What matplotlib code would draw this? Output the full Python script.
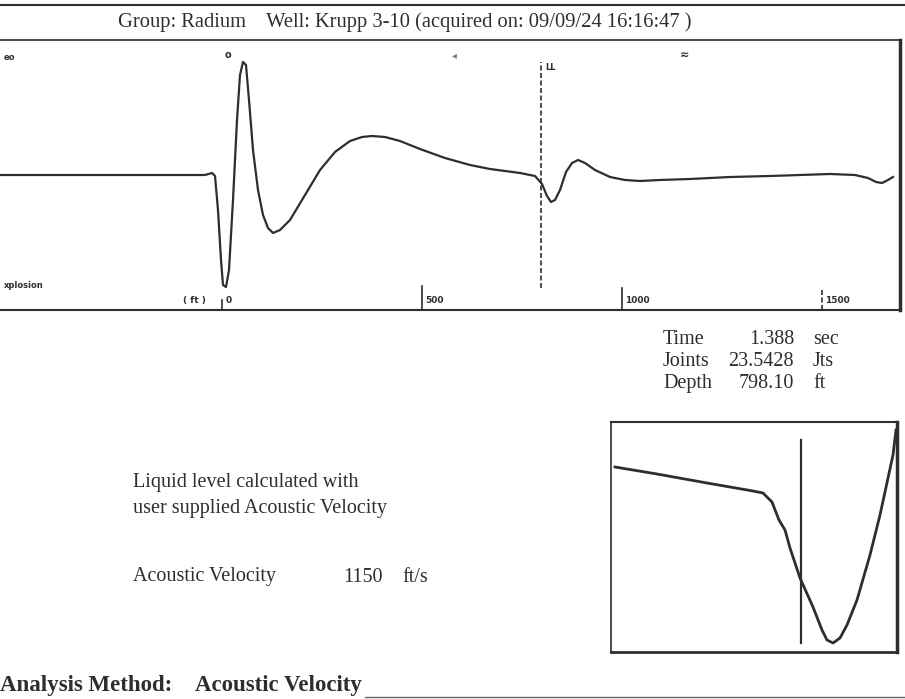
import numpy as np
import matplotlib.pyplot as plt

W, H = 905, 699

# acoustic trace: distance (ft) and amplitude
trace_ft = [-555, -180, -42.5, -25, -17.5, -10, -2.5, 2.5, 10, 17.5, 27.5, 37.5, 45, 52.5,
            60, 67.5, 77.5, 90, 102.5, 115, 127.5, 145, 170, 207.5, 245, 282.5, 320, 350,
            375, 407.5, 445, 495, 557.5, 620, 670, 745, 782.5, 800, 812.5, 822.5, 832.5,
            845, 860, 875, 890, 907.5, 932.5, 970, 1007.5, 1045, 1095, 1170, 1270, 1370,
            1445, 1520, 1582.5, 1615, 1635, 1650, 1665, 1677.5]
trace_amp = [0, 0, 0, 2, -1, -35, -85, -110, -112, -95, -25, 55, 100, 113,
             110, 75, 25, -15, -40, -53, -58, -55, -45, -20, 5, 23, 34, 38,
             39, 38, 34, 26, 17, 10, 6, 2, -1, -9, -21, -27, -25,
             -15, 3, 12, 15, 12, 5, -2, -5, -6, -5, -4, -2, -1,
             0, 1, 0, -3, -7, -8, -5, -2]

x_ticks = [0, 500, 1000, 1500]
marker_depth = 798.10

# zoomed view around the liquid level kick
zoom_x = [4, 46, 96, 142, 152, 156, 161, 168, 174, 179, 189, 202, 211, 216, 222,
          229, 236, 246, 259, 269, 282, 285]
zoom_y = [185, 178, 169, 161, 159, 155, 150, 132, 122, 104, 74, 45, 22, 12, 9,
          14, 27, 52, 97, 137, 197, 222]
zoom_marker = 190

stat_names = ['Time', 'Joints', 'Depth']
stat_values = ['1.388', '23.5428', '798.10']
stat_units = ['sec', 'Jts', 'ft']

ink = '#2e2e2e'
serif = 'Liberation Serif'


def fx(x):
    return x / W


def fy(y):
    return 1 - y / H


fig = plt.figure(figsize=(W / 100, H / 100), dpi=100)

# header lines and title
fig.add_artist(plt.Line2D([0, 1], [fy(5), fy(5)], color=ink, lw=1.5))
fig.text(fx(405), fy(22), 'Group: Radium    Well: Krupp 3-10 (acquired on: 09/09/24 16:16:47 )',
         ha='center', va='center', fontsize=14.8, family=serif, color=ink)

# main trace
ax = fig.add_axes([0, fy(310), 900 / W, 270 / H])
ax.plot(trace_ft, trace_amp, color=ink, lw=1.6)
ax.axvline(marker_depth, ymin=(135 - 113) / 270, ymax=(135 + 113) / 270,
           color=ink, lw=1.2, ls=(0, (3, 1.5)))
ax.set_xlim(-555, 1695)
ax.set_ylim(-135, 135)
ax.set_yticks([])
ax.set_xticks([])
ax.spines['left'].set_visible(False)
ax.spines['top'].set_linewidth(1.2)
ax.spines['bottom'].set_linewidth(1.5)
ax.spines['right'].set_linewidth(2.5)
for sp in ax.spines.values():
    sp.set_color(ink)

# depth ticks drawn upward from the baseline
tick_len = [10, 24, 22, 22]
tick_style = ['-', '-', '-', (0, (3, 1.5))]
for t, ln, st in zip(x_ticks, tick_len, tick_style):
    ax.axvline(t, ymin=0, ymax=ln / 270, color=ink, lw=1.2, ls=st)
    ax.text(t + 8, -130, str(t), fontsize=6.5, fontweight='bold', color=ink,
            ha='left', va='bottom')
ax.text(-40, -130, '( ft )', fontsize=6.5, fontweight='bold', color=ink, ha='right', va='bottom')
ax.text(-545, -110, 'xplosion', fontsize=6, fontweight='bold', color=ink, va='center')
ax.text(-545, 118, 'eo', fontsize=6, fontweight='bold', color=ink, va='center')
ax.text(15, 120, 'o', fontsize=7, fontweight='bold', color=ink, ha='center', va='center')
ax.text(582, 120, '◂', fontsize=7, color='#777777', ha='center', va='center')
ax.text(1157, 120, '≈', fontsize=8, fontweight='bold', color=ink, ha='center', va='center')
ax.text(marker_depth + 10, 108, 'LL', fontsize=6, fontweight='bold', color=ink,
        va='center')

# readout
for i, (n, v, u) in enumerate(zip(stat_names, stat_values, stat_units)):
    y = 339 + 22 * i
    fig.text(fx(663), fy(y), n, fontsize=14.5, family=serif, color=ink, va='center')
    fig.text(fx(794), fy(y), v, fontsize=14.5, family=serif, color=ink, va='center', ha='right')
    fig.text(fx(813), fy(y), u, fontsize=14.5, family=serif, color=ink, va='center')

fig.text(fx(133), fy(483), 'Liquid level calculated with', fontsize=14.5, family=serif,
         color=ink, va='center')
fig.text(fx(133), fy(508), 'user supplied Acoustic Velocity', fontsize=14.5, family=serif,
         color=ink, va='center')
fig.text(fx(133), fy(577), 'Acoustic Velocity', fontsize=14.5, family=serif, color=ink,
         va='center')
fig.text(fx(343), fy(577), '1150', fontsize=14.5, family=serif, color=ink, va='center')
fig.text(fx(402), fy(577), 'ft/s', fontsize=14.5, family=serif, color=ink, va='center')

fig.text(fx(0), fy(686), 'Analysis Method:', fontsize=16.5, family=serif, fontweight='bold',
         color=ink, va='center')
fig.text(fx(195), fy(686), 'Acoustic Velocity', fontsize=16.5, family=serif, fontweight='bold',
         color=ink, va='center')
fig.add_artist(plt.Line2D([fx(365), 1], [fy(697), fy(697)], color='#666666', lw=1))

# zoom inset
axz = fig.add_axes([fx(611), fy(652), 286 / W, 230 / H])
axz.plot(zoom_x, zoom_y, color=ink, lw=2)
axz.plot([zoom_marker, zoom_marker], [9, 212], color=ink, lw=1.6)
axz.set_xlim(0, 286)
axz.set_ylim(0, 230)
axz.set_xticks([])
axz.set_yticks([])
for s, w in zip(['left', 'top', 'right', 'bottom'], [1.2, 1.5, 2.5, 2]):
    axz.spines[s].set_linewidth(w)
    axz.spines[s].set_color(ink)

fig.savefig('out.png', dpi=100)
